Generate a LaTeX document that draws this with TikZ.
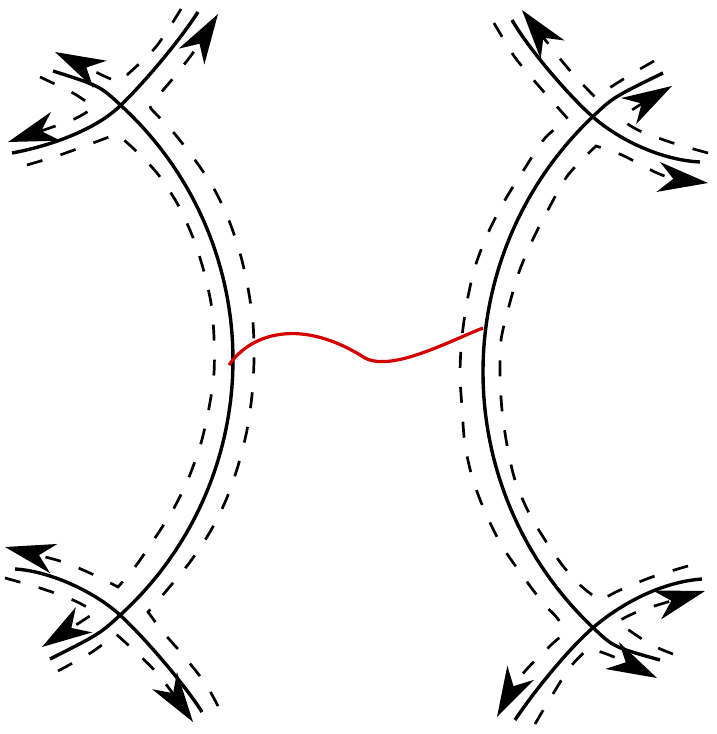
\documentclass[tikz,border=0pt]{standalone}
\usetikzlibrary{arrows.meta}
\definecolor{kinkred}{RGB}{212,0,0}
\tikzset{
  strand/.style = {line width=3.4pt},
  rim/.style = {line width=2.7pt, dash pattern=on 16pt off 19pt},
  tipped/.style = {-{Stealth[length=50pt, width=30pt, inset=15pt]}}
}
\begin{document}
\begin{tikzpicture}[x=1pt, y=-1pt]
            \useasboundingbox (0,0) rectangle (717,734);

                % Strands:
                \draw[strand] (53,71) .. controls (100,86) .. (120.6,105.2) arc[start angle=-47.6, end angle=47.7, radius=345]
                    .. controls (99.5,634) .. (50,659);
                \draw[strand] (663,73) .. controls (613,97.4) .. (592.7,116.7) arc[start angle=226.5, end angle=133.4, radius=352]
                    .. controls (613.5,647) .. (660,660);
                \draw[strand] (12,153) .. controls (50,146) and (95,130) .. (120,106) .. controls (145,82) and (180,40) .. (198,12);
                \draw[strand] (15,569) .. controls (50,571) and (95,592) .. (120,615) .. controls (145,638) and (185,685) .. (202,712);
                \draw[strand] (512,20) .. controls (528,48) and (568,95) .. (593,117) .. controls (618,139) and (660,160) .. (700,162);
                \draw[strand] (515,720) .. controls (535,690) and (570,647) .. (595,626) .. controls (620,605) and (660,582) .. (702,579);

                % Dashed rims, left:
                \draw[rim, tipped] plot[smooth] coordinates {(218,706) (205,683) (183,655) (163,632) (148,612)}
                    -- plot[smooth] coordinates {(148,612) (167,590) (190,562) (210,532) (226,500) (238,466) (247,430) (252,395) (254,360) (253,323) (248,288) (240,253) (228,218) (213,187) (195,160) (174,133) (158,116) (150,106) (158,96) (175,76) (195,50) (218,14)};
                \draw[rim, tipped] plot[smooth] coordinates {(27,165) (60,155) (93,143) (117,134)}
                    -- plot[smooth] coordinates {(117,134) (135,150) (157,173) (177,203) (192,235) (203,268) (211,303) (214,337) (214,373) (209,408) (201,443) (189,477) (174,508) (155,538) (135,567) (118,587)}
                    -- plot[smooth] coordinates {(118,587) (92,574) (60,561) (5,547)};
                \draw[rim, tipped] plot[smooth] coordinates {(181,9) (155,48) (119,82)}
                    -- plot[smooth] coordinates {(119,82) (104,76) (55,52)};
                \draw[rim, tipped] plot[smooth] coordinates {(40,77) (73,93) (94,107)}
                    -- plot[smooth] coordinates {(94,107) (72,120) (8,142)};
                \draw[rim, tipped] plot[smooth] coordinates {(58,671) (92,652) (116,634)}
                    -- plot[smooth] coordinates {(116,634) (157,673) (193,722)};
                \draw[rim, tipped] plot[smooth] coordinates {(5,578) (40,588) (73,600) (96,612)} -- (42,647);

                % Dashed rims, right:
                \draw[rim, tipped] plot[smooth] coordinates {(494,23) (514,56) (537,84) (568,119)}
                    -- plot[smooth] coordinates {(568,119) (545,138) (525,168) (505,200) (488,233) (475,267) (467,302) (462,337) (460,373) (462,408) (465,445) (473,480) (486,514) (502,546) (522,575) (543,603) (558,619) (563,633) (550,646) (521,676) (497,717)};
                \draw[rim, tipped] plot[smooth] coordinates {(688,566) (652,577) (618,591) (600,601)}
                    -- plot[smooth] coordinates {(600,601) (580,585) (563,566) (547,543) (529,513) (515,480) (507,445) (502,410) (500,375) (501,340) (509,306) (519,272) (533,239) (549,208) (568,175) (596,146)}
                    -- plot[smooth] coordinates {(596,146) (622,155) (645,167) (668,177) (708,183)};
                \draw[rim, tipped] plot[smooth] coordinates {(654,61) (630,75) (595,97)}
                    -- plot[smooth] coordinates {(595,97) (566,66) (522,10)};
                \draw[rim, tipped] plot[smooth] coordinates {(708,153) (673,143) (640,131) (624,120) (632,110) (672,86)};
                \draw[rim, tipped] plot[smooth] coordinates {(673,654) (650,644) (617,622)}
                    -- plot[smooth] coordinates {(617,622) (642,610) (705,591)};
                \draw[rim, tipped] plot[smooth] coordinates {(535,724) (568,670) (589,648)}
                    -- plot[smooth] coordinates {(589,648) (614,657) (657,678)};

                % Kink:
                \draw[line width=3.2pt, color = kinkred] (229,365) .. controls (252,332) and (302.5,318) .. (365,358)
                    .. controls (392,372) and (448.5,341.5) .. (483,328);
\end{tikzpicture}
\end{document}
